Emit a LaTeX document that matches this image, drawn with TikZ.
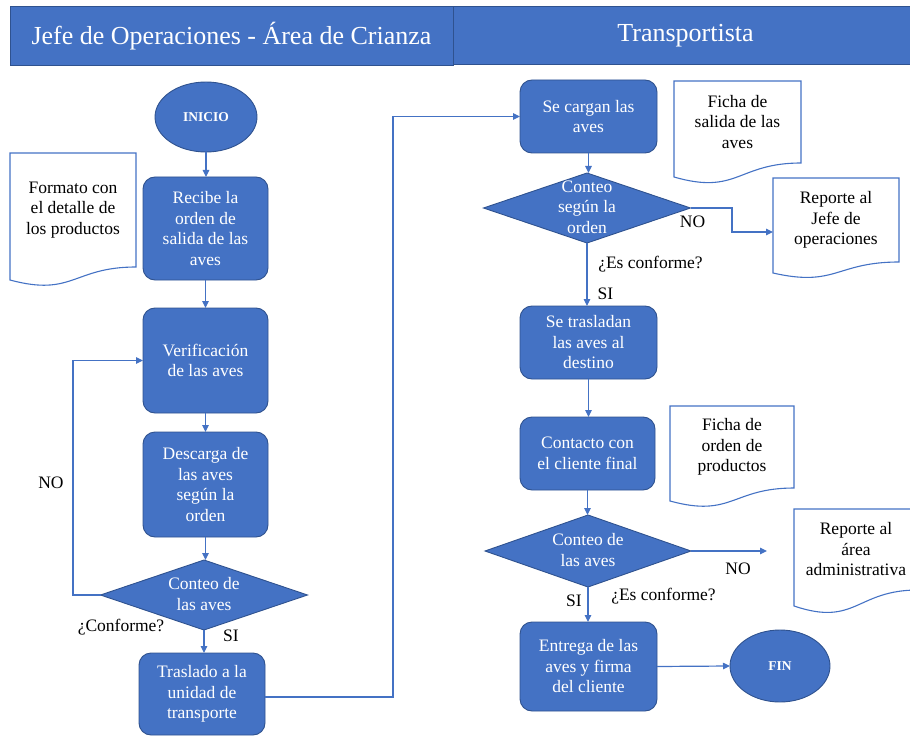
\documentclass[tikz,border=0pt]{standalone}
\usepackage{fontspec}
\setmainfont{Liberation Serif}
\usetikzlibrary{shapes.geometric,arrows.meta,calc}

\definecolor{boxfill}{HTML}{4472C4}
\definecolor{boxedge}{HTML}{2F528F}
\definecolor{flow}{HTML}{4472C4}

% outline of a document symbol: straight top and sides, wavy bottom edge
% #1 = node name, #2 = how far the left corner hangs below the right one
\newcommand{\docedge}[2]{%
  \draw[docline] (#1.north east) -- (#1.north west) -- ($(#1.south west)+(0,#2)$)
    .. controls ($(#1.south)+(0,2.31*#2)$) and (#1.south) .. (#1.south east) -- cycle;}

\begin{document}
\begin{tikzpicture}[x=1pt,y=-1pt,
  every node/.style={inner sep=0pt, outer sep=0pt},
  txt/.style={font=\fontsize{17.5}{20.5}\selectfont, align=center},
  proc/.style={txt, rectangle, draw=boxedge, line width=0.9pt, fill=boxfill,
    text=white, rounded corners=12pt},
  term/.style={ellipse, draw=boxedge, line width=0.9pt, fill=boxfill, text=white,
    font=\fontsize{13.5}{16}\selectfont\bfseries},
  decide/.style={diamond, draw=boxedge, line width=0.9pt, fill=boxfill},
  dtext/.style={txt, text=white},
  doc/.style={txt, rectangle},
  docline/.style={draw=flow, line width=1.1pt},
  head/.style={rectangle, draw=boxedge, line width=1pt, fill=boxfill, text=white,
    font=\fontsize{26}{30}\selectfont},
  lab/.style={txt, text=black},
  flowline/.style={draw=flow, line width=1.2pt},
  arr/.style={flowline, -{Triangle[length=7pt,width=6.5pt]}}
]
\useasboundingbox (0,0) rectangle (910,738);
\begin{scope}
\clip (0,0) rectangle (910,738);

% lane headers
\node[head, minimum width=465pt, minimum height=58pt] (hright) at (685.5,36) {Transportista};
\node[head, minimum width=443pt, minimum height=59pt] (hleft) at (231.5,36.5) {Jefe de Operaciones - Área de Crianza};

% ---- left lane ----
\node[term, minimum width=102pt, minimum height=70pt] (inicio) at (206,117) {INICIO};
\node[proc, minimum width=125pt, minimum height=103pt] (recibe) at (205.5,228.5)
  {Recibe la\\orden de\\salida de las\\aves};
\node[proc, minimum width=125pt, minimum height=105pt] (verif) at (205.5,360.5)
  {Verificación\\de las aves};
\node[proc, minimum width=125pt, minimum height=105pt] (descarga) at (205.5,484.5)
  {Descarga de\\las aves\\según la\\orden};
\node[decide, minimum width=207pt, minimum height=70pt] (d1) at (204,595) {};
\node[dtext] (d1t) at (204,594) {Conteo de\\las aves};
\node[proc, minimum width=126pt, minimum height=82pt] (traslado) at (202,694)
  {Traslado a la\\unidad de\\transporte};

\node[doc, minimum width=126pt, minimum height=114pt] (fmt) at (73,210)
  {Formato con\\el detalle de\\los productos};
\docedge{fmt}{13}

% ---- right lane ----
\node[proc, minimum width=137pt, minimum height=73pt] (cargan) at (588.5,116.5)
  {Se cargan las\\aves};
\node[decide, minimum width=207pt, minimum height=70pt] (d2) at (587,208) {};
\node[dtext] (d2t) at (587,207) {Conteo\\según la\\orden};
\node[proc, minimum width=137pt, minimum height=73pt] (trasladan) at (588.5,342.5)
  {Se trasladan\\las aves al\\destino};
\node[proc, minimum width=135pt, minimum height=73pt] (contacto) at (587.5,453.5)
  {Contacto con\\el cliente final};
\node[decide, minimum width=206pt, minimum height=72pt] (d3) at (588,551) {};
\node[dtext] (d3t) at (588,550) {Conteo de\\las aves};
\node[proc, minimum width=137pt, minimum height=89pt] (entrega) at (588.5,666.5)
  {Entrega de las\\aves y firma\\del cliente};
\node[term, minimum width=100pt, minimum height=72pt] (fin) at (780,666) {FIN};

\node[doc, minimum width=127pt, minimum height=82pt] (fsal) at (737.5,122)
  {Ficha de\\salida de las\\aves};
\docedge{fsal}{14}
\node[doc, minimum width=126pt, minimum height=84pt] (rjefe) at (836,220)
  {Reporte al\\Jefe de\\operaciones};
\docedge{rjefe}{11}
\node[doc, minimum width=124pt, minimum height=82pt] (ford) at (732,447)
  {Ficha de\\orden de\\productos};
\docedge{ford}{13}
\node[doc, minimum width=124pt, minimum height=81pt] (radm) at (856,549.5)
  {Reporte al\\área\\administrativa};
\docedge{radm}{16}

% ---- connectors ----
\coordinate (loopx) at (73,595);
\coordinate (bend) at (393,697);
\coordinate (k1) at (732,232);
\coordinate (noend) at (767,551);

\draw[arr] (inicio.south) -- (inicio.south |- recibe.north);
\draw[arr] (recibe.south) -- (verif.north);
\draw[arr] (verif.south) -- (descarga.north);
\draw[arr] (descarga.south) -- (descarga.south |- d1.north);
\draw[arr] (d1.south) -- (d1.south |- traslado.north);
\draw[arr] (d1.west) -- (loopx) |- (verif.west);
\draw[arr] (traslado.east |- bend) -- (bend) |- (cargan.west);

\draw[arr] (cargan.south) -- (cargan.south |- d2.north);
\draw[arr] (d2.east) -| (k1) -- (k1 -| rjefe.west);
\draw[arr] (d2.south) -- (d2.south |- trasladan.north);
\draw[arr] (trasladan.south) -- (trasladan.south |- contacto.north);
\draw[arr] (contacto.south) -- (contacto.south |- d3.north);
\draw[arr] (d3.east) -- (noend);
\draw[arr] (d3.south) -- (d3.south |- entrega.north);
\draw[arr] (entrega.east) -- (fin.west);

% ---- branch labels ----
\node[lab] (l1) at (51,483) {NO};
\node[lab] (l2) at (121,627) {¿Conforme?};
\node[lab] (l3) at (231,636) {SI};
\node[lab] (l4) at (692.5,222) {NO};
\node[lab] (l5) at (650.5,264) {¿Es conforme?};
\node[lab] (l6) at (605.5,294) {SI};
\node[lab] (l7) at (738,569) {NO};
\node[lab] (l8) at (574,601) {SI};
\node[lab] (l9) at (663.5,596) {¿Es conforme?};
\end{scope}
\end{tikzpicture}
\end{document}
